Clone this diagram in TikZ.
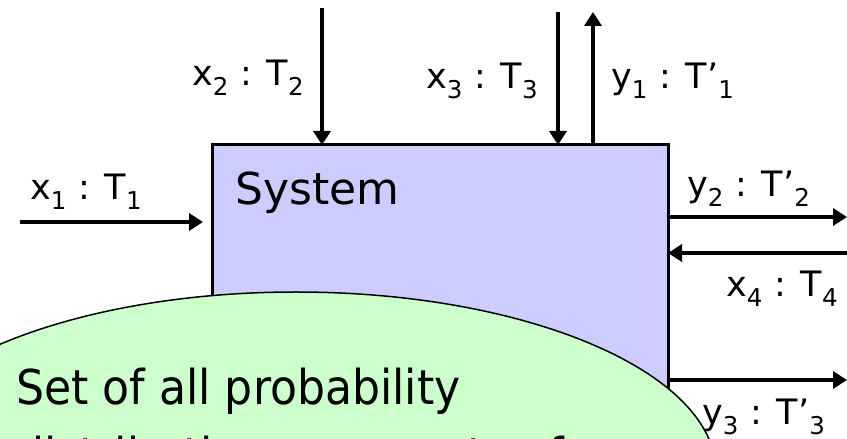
\documentclass[tikz,border=0pt]{standalone}
\usepackage{fontspec}
\setmainfont{DejaVu Sans}
\newfontfamily\setfont[FakeStretch=0.92]{DejaVu Sans}
\usepackage{xcolor}
\usetikzlibrary{arrows.meta,positioning,calc,shapes.geometric}
\definecolor{SysLilac}{HTML}{CCCCFF}
\definecolor{DistGreen}{HTML}{CCFFCC}
\newcommand{\port}[4]{#1\textsubscript{#2} : #3\textsubscript{#4}}
\tikzset{
  sysbox/.style={draw=black,line width=3pt,fill=SysLilac,inner sep=0pt,outer sep=0pt},
  distblob/.style={ellipse,draw=black,line width=1.5pt,fill=DistGreen,inner sep=0pt},
  wire/.style={-{Triangle[length=14pt,width=17pt]},line width=3.5pt},
  tag/.style={font=\fontsize{35}{40}\selectfont,inner sep=0pt,anchor=base west},
  big/.style={font=\fontsize{44}{52}\selectfont,inner sep=0pt,anchor=base west}
}
\begin{document}
\begin{tikzpicture}[x=1pt,y=1pt]
  \useasboundingbox (0,0) rectangle (847,439);
  \clip (0,0) rectangle (847,439);

  \node[sysbox,minimum width=456pt,minimum height=420pt,anchor=north west] (sys) at (212,294) {};
  \node[big] (sysname) at (235,234) {System};

  % free ends of the wires
  \coordinate (x1in) at (20,217);
  \coordinate (x2in) at (322,431);
  \coordinate (x3in) at (558,427);
  \coordinate (y1out) at (593,427);
  \coordinate (y2out) at (847,222);
  \coordinate (x4in) at (847,186);
  \coordinate (y3out) at (847,59);

  \draw[wire,shorten >=9pt] (x1in) -- (x1in -| sys.west);
  \draw[wire] (x2in) -- (x2in |- sys.north);
  \draw[wire] (x3in) -- (x3in |- sys.north);
  \draw[wire] (y1out |- sys.north) -- (y1out);
  \draw[wire] (y2out -| sys.east) -- (y2out);
  \draw[wire] (x4in) -- (x4in -| sys.east);
  \draw[wire] (y3out -| sys.east) -- (y3out);

  \node[tag] (x1lab) at (30,239) {\port{x}{1}{T}{1}};
  \node[tag] (x2lab) at (192,353) {\port{x}{2}{T}{2}};
  \node[tag] (x3lab) at (426,350) {\port{x}{3}{T}{3}};
  \node[tag] (y1lab) at (611,350) {\port{y}{1}{T’}{1}};
  \node[tag] (y2lab) at (687,242) {\port{y}{2}{T’}{2}};
  \node[tag] (x4lab) at (726,142) {\port{x}{4}{T}{4}};
  \node[tag] (y3lab) at (702,14) {\port{y}{3}{T’}{3}};

  \node[distblob,minimum width=840pt,minimum height=360pt] (dist) at (296,-33) {};
  \node[font=\setfont\fontsize{48}{68}\selectfont,inner sep=0pt,anchor=base west,align=left] (distlab) at (16,-34)
    {Set of all probability\\distributions over sets of};
\end{tikzpicture}
\end{document}
